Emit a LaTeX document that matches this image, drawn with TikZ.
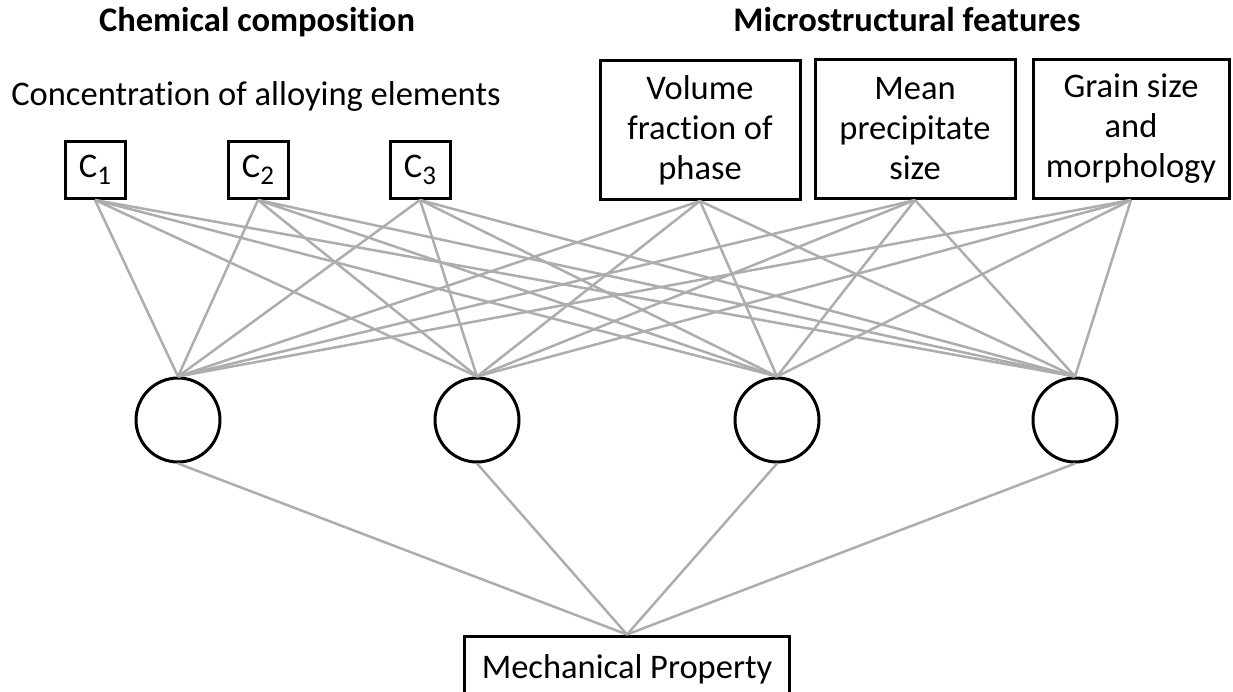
\documentclass[tikz,border=0pt]{standalone}
\usepackage{fontspec}
\setmainfont[Ligatures=NoCommon]{Carlito}
\usepackage{tikz}

\newcommand{\csub}[1]{C\raisebox{-7pt}{\fontsize{27}{27}\selectfont #1}}

\begin{document}
\begin{tikzpicture}[x=1pt,y=-1pt,
  box/.style={draw, line width=3pt, inner sep=0pt, align=center},
  hidden/.style={circle, draw, line width=3pt, minimum size=84pt, inner sep=0pt},
  link/.style={draw=black!32, line width=2.5pt},
  every node/.style={font=\fontsize{34.5}{40}\selectfont}]

\useasboundingbox (0,0) rectangle (1233,692);
\clip (0,0) rectangle (1233,692);

\node[anchor=base] (head1) at (257,32) {\textbf{Chemical composition}};
\node[anchor=base] (head2) at (907,32) {\textbf{Microstructural features}};
\node[anchor=base] (conc) at (256,106) {Concentration of alloying elements};

\node[box, minimum width=60pt, minimum height=57pt] (c1) at (95,170) {\csub{1}};
\node[box, minimum width=60pt, minimum height=57pt] (c2) at (258,170) {\csub{2}};
\node[box, minimum width=60pt, minimum height=57pt] (c3) at (420,170) {\csub{3}};
\node[box, minimum width=200pt, minimum height=139pt] (f1) at (700,130) {Volume\\fraction of\\phase};
\node[box, minimum width=200pt, minimum height=139pt] (f2) at (915,129) {Mean\\precipitate\\size};
\node[box, minimum width=196pt, minimum height=139pt] (f3) at (1131,129) {Grain size\\and\\morphology};

\node[hidden] (h1) at (178,420) {};
\node[hidden] (h2) at (477,420) {};
\node[hidden] (h3) at (777,420) {};
\node[hidden] (h4) at (1075,420) {};

\node[box, minimum width=325pt, minimum height=66pt] (prop) at (627,669) {Mechanical Property};

\draw[link] (c1.south) edge (h1.north);
\draw[link] (c1.south) edge (h2.north);
\draw[link] (c1.south) edge (h3.north);
\draw[link] (c1.south) edge (h4.north);
\draw[link] (c2.south) edge (h1.north);
\draw[link] (c2.south) edge (h2.north);
\draw[link] (c2.south) edge (h3.north);
\draw[link] (c2.south) edge (h4.north);
\draw[link] (c3.south) edge (h1.north);
\draw[link] (c3.south) edge (h2.north);
\draw[link] (c3.south) edge (h3.north);
\draw[link] (c3.south) edge (h4.north);

\draw[link] (f1.south) edge (h1.north);
\draw[link] (f1.south) edge (h2.north);
\draw[link] (f1.south) edge (h3.north);
\draw[link] (f1.south) edge (h4.north);
\draw[link] (f2.south) edge (h1.north);
\draw[link] (f2.south) edge (h2.north);
\draw[link] (f2.south) edge (h3.north);
\draw[link] (f2.south) edge (h4.north);
\draw[link] (f3.south) edge (h1.north);
\draw[link] (f3.south) edge (h2.north);
\draw[link] (f3.south) edge (h3.north);
\draw[link] (f3.south) edge (h4.north);

\draw[link] (h1.south) edge (prop.north);
\draw[link] (h2.south) edge (prop.north);
\draw[link] (h3.south) edge (prop.north);
\draw[link] (h4.south) edge (prop.north);
\end{tikzpicture}
\end{document}
